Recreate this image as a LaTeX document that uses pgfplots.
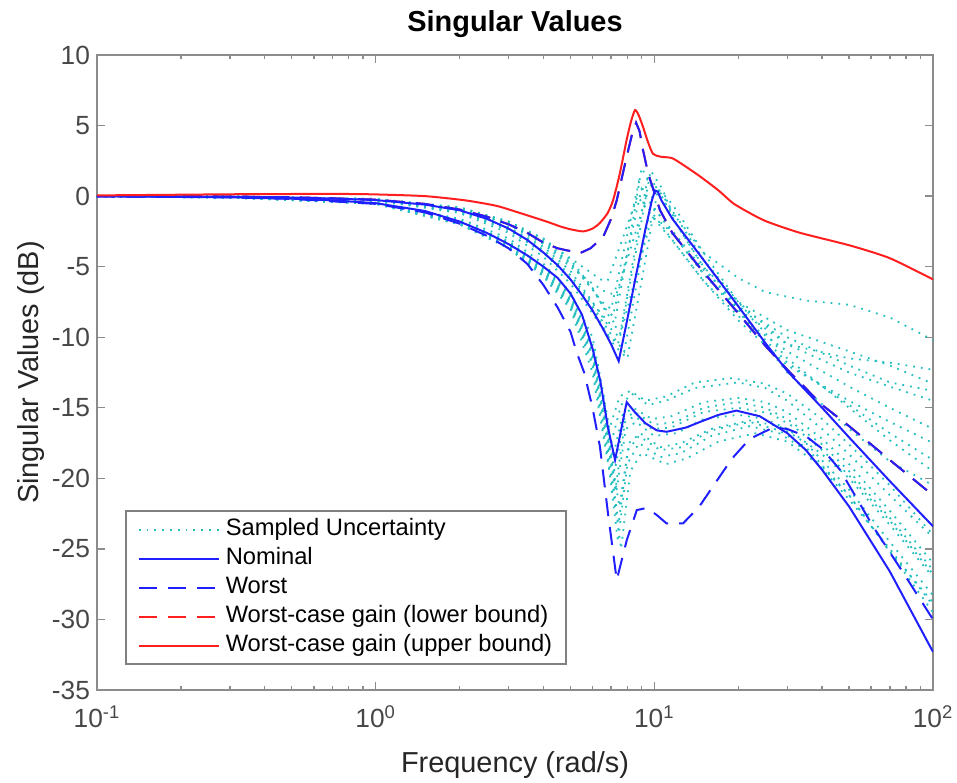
\documentclass[border=0pt]{standalone}
\usepackage{fontspec}
\setmainfont{Liberation Sans}
\usepackage{pgfplots}
\pgfplotsset{compat=1.18}
\usetikzlibrary{calc}
\definecolor{mcyan}{rgb}{0.15,0.75,0.75}
\definecolor{mblue}{rgb}{0.12,0.12,1}
\definecolor{mred}{rgb}{1,0.12,0.12}
\tikzset{
  samp/.style={mcyan, line width=0.9bp, dash pattern=on 0.9bp off 3bp},
  nomi/.style={mblue, line width=1bp},
  wors/.style={mblue, line width=1bp, dash pattern=on 9bp off 5.5bp},
  lowb/.style={mred, line width=1bp, dash pattern=on 9bp off 5.5bp},
  uppb/.style={mred, line width=1bp},
}
\begin{document}
\begin{tikzpicture}
\begin{axis}[name=ax, xmode=log, scale only axis, width=418bp, height=317.5bp,
  xmin=0.1, xmax=100, ymin=-35, ymax=10,
  ytick={-35,-30,-25,-20,-15,-10,-5,0,5,10},
  xtick={0.1,1,10,100},
  xticklabels={10\textsuperscript{-1},10\textsuperscript{0},10\textsuperscript{1},10\textsuperscript{2}},
  minor xtick={0.2,0.3,0.4,0.5,0.6,0.7,0.8,0.9,2,3,4,5,6,7,8,9,20,30,40,50,60,70,80,90},
  /pgf/number format/assume math mode=true,
  tick label style={font=\fontsize{13.2}{15}\selectfont, text=black!72},
  xticklabel style={yshift=-4.5bp},
  axis line style={black!45, line width=0.9bp},
  major tick length=4bp, minor tick length=2.2bp,
  every tick/.style={black!45, line width=0.7bp},
  xlabel={Frequency (rad/s)}, ylabel={Singular Values (dB)},
  title={\bfseries Singular Values},
  label style={font=\fontsize{14.5}{17}\selectfont, text=black!85},
  xlabel style={at={(axis description cs:0.5,-0.118)}, anchor=center},
  ylabel style={at={(axis description cs:-0.079,0.5)}, anchor=center},
  title style={font=\fontsize{14.5}{17}\selectfont, at={(axis description cs:0.5,1)}, anchor=base, yshift=6bp},
  legend cell align=left,
  legend image code/.code={\draw (0bp,0bp) -- (40bp,0bp); \path (-1bp,0bp) (41bp,0bp);},
  legend style={at={(rel axis cs:0.0335,0.0394)}, anchor=south west,
    draw=black!50, line width=0.8bp, fill=white,
    font=\fontsize{11.9}{14.5}\selectfont, inner xsep=5bp, inner ysep=2bp,
    row sep=0pt,
    nodes={text height=8.8bp, text depth=2.8bp, inner ysep=1.45bp}},
]
% ---------- sampled uncertainty: upper singular values ----------
\addplot[samp, forget plot] coordinates {(0.1,0) (0.3,-0.02) (1,-0.2) (2,-0.8) (3,-1.8) (4,-3.0) (5,-4.5) (6,-6.5) (6.7,-8.2) (7.2,-9.0) (8.1,-3.5) (9.0,2.0) (9.9,0.5) (12,-1.5) (15,-4.0) (20,-5.8) (25,-6.8) (35,-7.4) (50,-7.7) (70,-8.6) (100,-10.2)};
\addplot[samp, forget plot] coordinates {(0.1,0) (0.3,-0.03) (1,-0.25) (2,-1.0) (3,-2.2) (4,-3.6) (5,-5.3) (6,-7.5) (6.9,-9.3) (7.5,-10) (8.45,-4.2) (9.5,1.5) (10.5,0.2) (12,-2) (15,-5) (20,-7.5) (30,-9.5) (50,-11) (70,-12) (100,-13.3)};
\addplot[samp, forget plot] coordinates {(0.1,0) (0.3,-0.02) (1,-0.2) (2,-0.9) (3,-2.0) (4,-3.3) (5,-4.8) (6,-6.6) (6.5,-7.5) (7.0,-8) (7.85,-3.5) (8.8,1.0) (9.7,-0.5) (12,-3) (15,-5.5) (20,-8.0) (30,-10.5) (50,-11.5) (70,-11.8) (100,-12.3)};
\addplot[samp, forget plot] coordinates {(0.1,0) (0.3,-0.03) (1,-0.3) (2,-1.1) (3,-2.4) (4,-4.0) (5,-5.8) (6,-7.8) (7.0,-9.8) (7.8,-11) (8.85,-5.1) (10.0,0.8) (11.0,-0.3) (12,-1.5) (15,-4.5) (20,-7.5) (30,-10.5) (50,-12.5) (70,-13.5) (100,-14.5)};
\addplot[samp, forget plot] coordinates {(0.1,0) (0.3,-0.02) (1,-0.25) (2,-0.9) (3,-2.0) (4,-3.4) (5,-5.0) (6,-6.2) (6.7,-6.8) (7.3,-7) (8.2,-3.8) (9.2,-0.5) (10.1,-1.5) (12,-3.5) (15,-6) (20,-8.5) (30,-11) (50,-13.5) (70,-15) (100,-16.5)};
\addplot[samp, forget plot] coordinates {(0.1,0) (0.3,-0.03) (1,-0.3) (2,-1.2) (3,-2.6) (4,-4.3) (5,-6.2) (6,-8.3) (7.2,-10.6) (8.0,-11.5) (9.1,-5.5) (10.3,0.5) (11.2,-0.2) (12,-1.0) (15,-4.0) (20,-7.5) (30,-11.5) (50,-15) (70,-17.3) (100,-19.5)};
\addplot[samp, forget plot] coordinates {(0.1,0) (0.3,-0.02) (1,-0.2) (2,-0.8) (3,-1.8) (4,-3.1) (5,-4.4) (6,-5.5) (6.4,-5.9) (6.8,-6) (7.7,-3.0) (8.7,0) (9.6,-1.2) (12,-3.5) (15,-6.0) (20,-8.8) (30,-12.0) (50,-14.5) (70,-16.0) (100,-17.5)};
\addplot[samp, forget plot] coordinates {(0.1,0) (0.3,-0.03) (1,-0.28) (2,-1.05) (3,-2.3) (4,-3.8) (5,-5.6) (6,-7.6) (6.9,-9.0) (7.6,-9.5) (8.6,-3.9) (9.7,1.8) (10.7,0.5) (12,-2) (15,-5) (20,-8) (30,-12.5) (50,-16.5) (70,-18.8) (100,-20.5)};
\addplot[samp, forget plot] coordinates {(0.1,0) (0.3,-0.02) (1,-0.22) (2,-0.85) (3,-1.9) (4,-3.2) (5,-4.7) (6,-6.6) (6.6,-7.9) (7.1,-8.5) (8.0,-4.0) (9.0,0.5) (9.9,-0.8) (12,-2.8) (15,-5.2) (20,-7.8) (30,-10.0) (50,-12) (70,-13.2) (100,-13.8)};
\addplot[samp, forget plot] coordinates {(0.1,0) (0.3,-0.03) (1,-0.3) (2,-1.1) (3,-2.4) (4,-4.0) (5,-5.9) (6,-8.0) (6.8,-9.8) (7.4,-10.5) (8.5,-6.0) (9.8,-1.5) (10.8,-2.0) (12,-3) (15,-5.5) (20,-8.2) (30,-11.8) (50,-14.8) (70,-16.8) (100,-18.7)};
% ---------- sampled uncertainty: lower singular values ----------
\addplot[samp, forget plot] coordinates {(0.1,-0.02) (0.3,-0.08) (1,-0.45) (2,-1.7) (3,-3.2) (4,-5.0) (5,-7.0) (6,-10.5) (6.6,-14.5) (7.0,-17.5) (7.6,-14.8) (8.3,-14.0) (9.5,-14.8) (11,-14.5) (14,-13.6) (20,-13.2) (25,-13.6) (30,-14.5) (40,-16.5) (50,-18.3) (70,-21.2) (100,-24.2)};
\addplot[samp, forget plot] coordinates {(0.1,-0.02) (0.3,-0.1) (1,-0.5) (2,-1.9) (3,-3.5) (4,-5.4) (5,-7.6) (6,-11.5) (6.8,-17) (7.3,-21) (7.9,-16.5) (8.6,-16.0) (10,-17.0) (12,-16.8) (15,-15.8) (20,-15.5) (25,-15.8) (30,-16.5) (40,-18.3) (50,-20.0) (70,-23.3) (100,-27.0)};
\addplot[samp, forget plot] coordinates {(0.1,-0.02) (0.3,-0.1) (1,-0.55) (2,-2.0) (3,-3.7) (4,-5.7) (5,-8.0) (6,-12.5) (6.9,-19.5) (7.4,-24.5) (8.0,-19) (8.8,-17.5) (10.5,-18.5) (12.5,-18.2) (16,-17.0) (22,-16.3) (28,-16.8) (35,-18) (50,-21.5) (70,-25) (100,-29)};
\addplot[samp, forget plot] coordinates {(0.1,-0.02) (0.3,-0.08) (1,-0.45) (2,-1.8) (3,-3.3) (4,-5.1) (5,-7.1) (6,-10.8) (6.7,-15.5) (7.1,-18.5) (7.7,-15.5) (8.4,-15.0) (9.8,-15.8) (11.5,-15.6) (15,-14.6) (20,-14.3) (25,-14.6) (30,-15.3) (40,-17.2) (50,-19.0) (70,-22.3) (100,-26.0)};
\addplot[samp, forget plot] coordinates {(0.1,-0.02) (0.3,-0.09) (1,-0.5) (2,-1.85) (3,-3.4) (4,-5.3) (5,-7.4) (6,-11.2) (6.9,-17.8) (7.5,-22) (8.1,-17.5) (8.9,-16.8) (10.5,-17.8) (12.5,-17.5) (16,-16.5) (22,-15.9) (28,-16.3) (35,-17.5) (50,-20.8) (70,-24.5) (100,-28.3)};
\addplot[samp, forget plot] coordinates {(0.1,-0.02) (0.3,-0.08) (1,-0.48) (2,-1.8) (3,-3.3) (4,-5.2) (5,-7.3) (6,-11.0) (6.7,-16.0) (7.2,-19.5) (7.8,-15.8) (8.5,-15.3) (10,-16.2) (12,-16.0) (15,-15.0) (20,-14.6) (25,-15.0) (30,-15.8) (40,-17.6) (50,-19.5) (70,-22.8) (100,-26.5)};
\addplot[samp, forget plot] coordinates {(0.1,-0.02) (0.3,-0.1) (1,-0.55) (2,-2.0) (3,-3.6) (4,-5.6) (5,-7.8) (6,-12.0) (7.0,-20.0) (7.6,-25) (8.2,-19.5) (9.0,-18.2) (11,-19.0) (13,-18.6) (17,-17.4) (23,-16.8) (30,-17.4) (40,-19.2) (50,-21.2) (70,-25.2) (100,-29.5)};
\addplot[samp, forget plot] coordinates {(0.1,-0.02) (0.3,-0.08) (1,-0.42) (2,-1.6) (3,-3.0) (4,-4.8) (5,-6.8) (6,-10.0) (6.5,-13.5) (6.9,-16.5) (7.5,-14.2) (8.2,-13.8) (9.3,-14.5) (11,-14.2) (14,-13.2) (19,-12.9) (25,-13.3) (30,-14.0) (40,-15.8) (50,-17.6) (70,-20.5) (100,-24.0)};
\addplot[samp, forget plot] coordinates {(0.1,-0.02) (0.3,-0.09) (1,-0.5) (2,-1.9) (3,-3.5) (4,-5.4) (5,-7.5) (6,-11.3) (6.8,-17.5) (7.25,-20.8) (7.85,-16.0) (8.5,-15.6) (9.8,-16.5) (11.5,-16.4) (15,-15.3) (20,-15.0) (26,-15.4) (32,-16.4) (40,-18.0) (50,-19.8) (70,-23.0) (100,-26.8)};
\addplot[samp, forget plot] coordinates {(0.1,-0.02) (0.3,-0.1) (1,-0.52) (2,-1.95) (3,-3.6) (4,-5.5) (5,-7.7) (6,-11.8) (6.95,-19.0) (7.45,-23.2) (8.05,-18.0) (8.8,-17.0) (10.5,-18.0) (12.5,-17.8) (16,-16.6) (22,-16.0) (28,-16.6) (35,-17.8) (50,-21.2) (70,-25.2) (100,-28.8)};
% ---------- worst-case gain lower bound (coincides with worst upper) ----------
\addplot[lowb, forget plot] coordinates {(0.1,0) (0.3,-0.03) (0.5,-0.08) (1,-0.25) (1.5,-0.55) (2,-0.95) (2.5,-1.45) (3,-2.0) (3.5,-2.6) (4,-3.3) (4.5,-3.7) (5,-3.9) (5.4,-4.05) (5.9,-3.7) (6.55,-2.9) (7.0,-1.6) (7.33,-0.3) (7.96,2.8) (8.3,4.3) (8.6,5.2) (8.85,4.6) (9.1,3.3) (9.5,1.6) (10.1,0.0) (10.48,-1.0) (11.6,-2.6) (14.6,-5.1) (20,-8.3) (25,-10.6) (30,-12.3) (40,-14.8) (50,-16.3) (70,-18.7) (100,-21.2)};
% ---------- nominal ----------
\addplot[nomi, forget plot] coordinates {(0.1,0) (0.2,-0.02) (0.3,-0.04) (0.5,-0.1) (0.7,-0.17) (1,-0.28) (1.5,-0.6) (2,-1.0) (2.5,-1.6) (3,-2.3) (3.5,-3.1) (4,-4.0) (4.5,-4.9) (5,-5.9) (5.5,-7.0) (6,-8.1) (6.5,-9.3) (7,-10.5) (7.45,-11.7) (7.95,-9.0) (8.6,-5.6) (9.3,-2.3) (9.8,-0.3) (10.05,0.4) (10.3,0.3) (10.6,-0.3) (11.6,-1.6) (14.6,-4.2) (20,-7.8) (25,-10.4) (30,-12.4) (40,-15.0) (50,-17.1) (70,-20.2) (100,-23.4)};
\addplot[nomi, forget plot] coordinates {(0.1,-0.02) (0.2,-0.05) (0.3,-0.08) (0.5,-0.18) (0.7,-0.3) (1,-0.5) (1.5,-1.05) (2,-1.8) (2.5,-2.6) (3,-3.4) (3.5,-4.2) (4,-5.0) (4.5,-5.8) (5,-6.9) (5.5,-8.4) (6,-10.8) (6.4,-13.1) (6.8,-16.3) (7.23,-18.7) (7.96,-14.6) (8.5,-15.3) (9.3,-16.1) (10.2,-16.6) (11.07,-16.7) (13,-16.4) (14.6,-16.0) (17,-15.5) (19.7,-15.2) (23.9,-15.6) (30,-16.8) (35,-18.0) (40,-19.4) (50,-22.0) (70,-26.6) (100,-32.3)};
% ---------- worst ----------
\addplot[wors, forget plot] coordinates {(0.1,0) (0.3,-0.03) (0.5,-0.08) (1,-0.25) (1.5,-0.55) (2,-0.95) (2.5,-1.45) (3,-2.0) (3.5,-2.6) (4,-3.3) (4.5,-3.7) (5,-3.9) (5.4,-4.05) (5.9,-3.7) (6.55,-2.9) (7.0,-1.6) (7.33,-0.3) (7.96,2.8) (8.3,4.3) (8.6,5.2) (8.85,4.6) (9.1,3.3) (9.5,1.6) (10.1,0.0) (10.48,-1.0) (11.6,-2.6) (14.6,-5.1) (20,-8.3) (25,-10.6) (30,-12.3) (40,-14.8) (50,-16.3) (70,-18.7) (100,-21.2)};
\addplot[wors, forget plot] coordinates {(0.1,-0.02) (0.3,-0.09) (0.5,-0.2) (1,-0.55) (1.5,-1.15) (2,-1.95) (2.5,-2.8) (3,-3.7) (3.5,-4.8) (4,-6.3) (4.5,-7.9) (5,-9.6) (5.27,-11.1) (5.6,-12.5) (6.0,-15.0) (6.38,-17.75) (6.82,-22.5) (7.33,-27.2) (7.96,-24.4) (8.65,-22.25) (9.39,-22.1) (10.2,-22.6) (11.07,-23.2) (12.67,-23.2) (14.5,-22.0) (16.2,-20.6) (19,-18.6) (22,-17.2) (26.7,-16.4) (30,-16.5) (35.2,-17.05) (40,-17.9) (46.4,-19.4) (60.9,-23.4) (80,-27.0) (100,-30.0)};
% ---------- worst-case gain upper bound ----------
\addplot[uppb, forget plot, smooth, tension=0.4] coordinates {(0.1,0.05) (0.2,0.1) (0.3,0.13) (0.5,0.15) (0.8,0.15) (1.0,0.12) (1.5,0.0) (2.06,-0.28) (2.5,-0.55) (2.79,-0.75) (3.3,-1.2) (4.1,-1.8) (4.6,-2.15) (5.0,-2.35) (5.55,-2.5) (6.0,-2.3) (6.38,-1.9) (6.8,-1.2) (7.11,-0.3) (7.5,1.5) (7.96,4.0) (8.25,5.3) (8.53,6.1) (8.8,5.7) (9.11,4.9) (9.5,3.8) (9.89,3.0) (10.48,2.8) (11.54,2.7) (12.5,2.3) (14.58,1.4) (17,0.4) (19.16,-0.5) (22,-1.2) (25.3,-1.8) (33.3,-2.6) (50.4,-3.5) (70,-4.4) (100,-5.9)};
% ---------- legend ----------
\addlegendimage{samp}\addlegendentry{Sampled Uncertainty}
\addlegendimage{nomi}\addlegendentry{Nominal}
\addlegendimage{wors}\addlegendentry{Worst}
\addlegendimage{lowb}\addlegendentry{Worst-case gain (lower bound)}
\addlegendimage{uppb}\addlegendentry{Worst-case gain (upper bound)}
\end{axis}
\pgfresetboundingbox
\path[use as bounding box] ($(ax.south west)+(-48.5bp,-46.5bp)$) rectangle ($(ax.north east)+(12bp,27.5bp)$);
\end{tikzpicture}
\end{document}
